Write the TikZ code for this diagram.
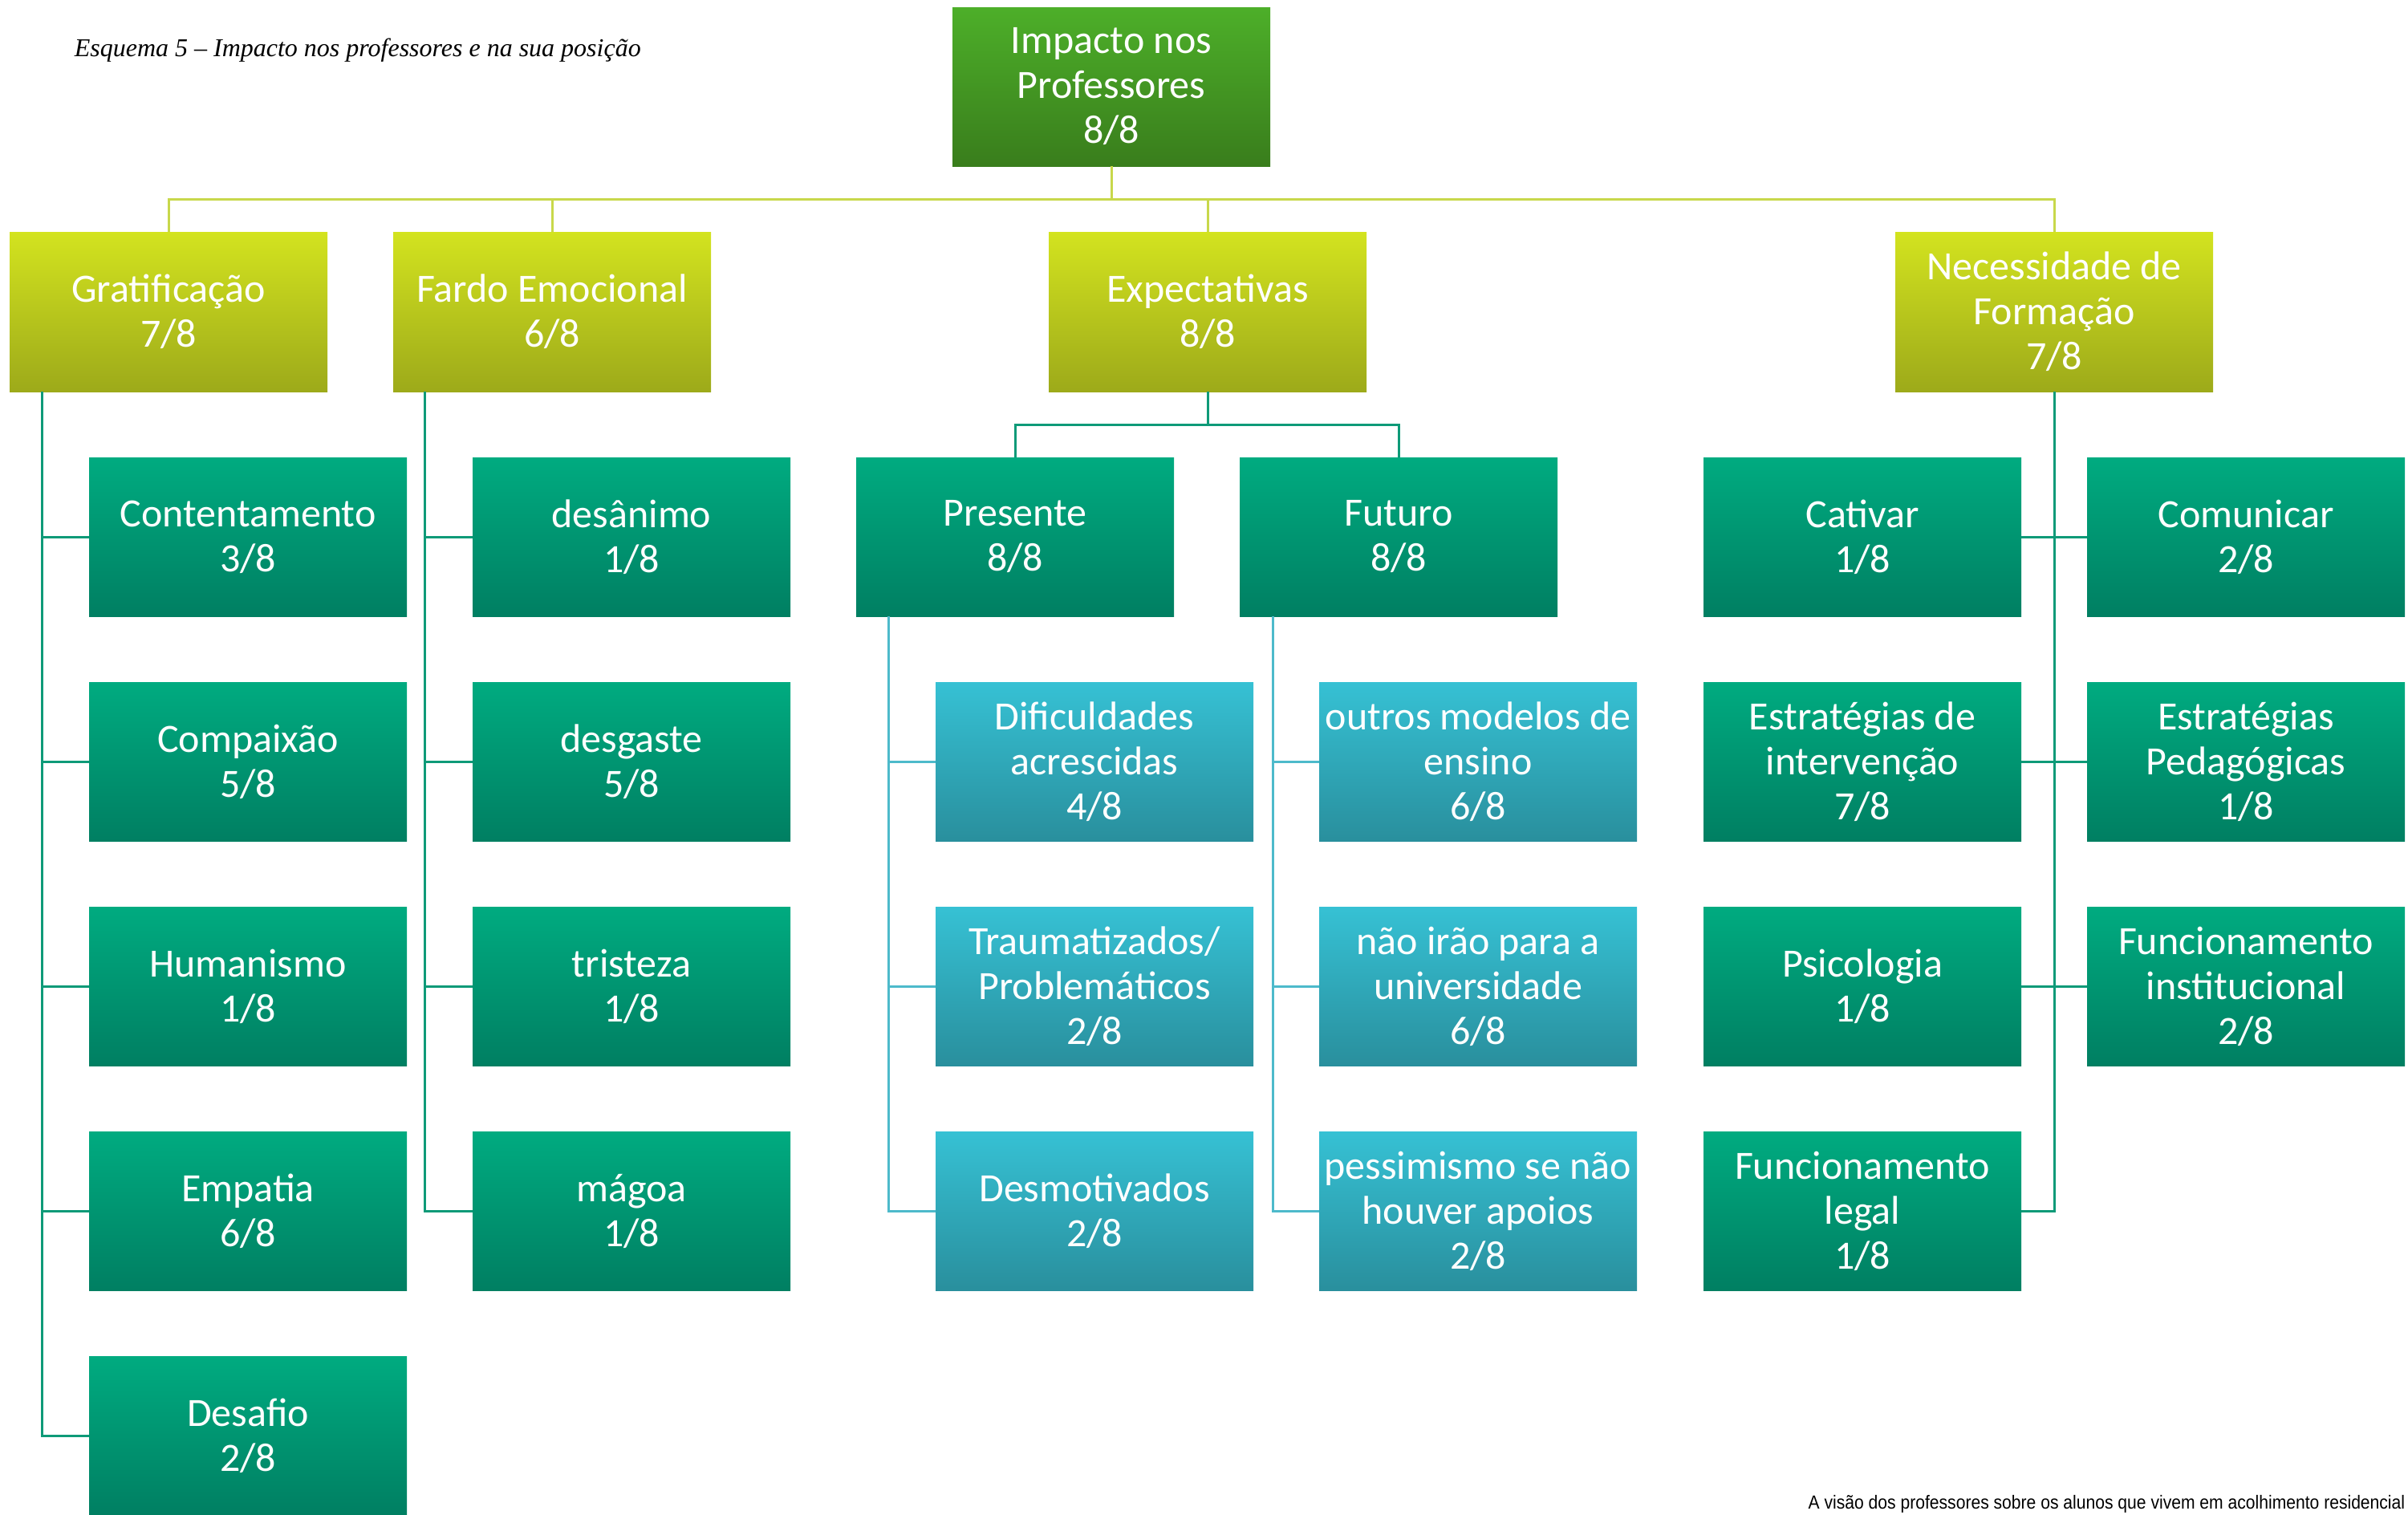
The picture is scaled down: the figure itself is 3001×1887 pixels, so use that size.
\documentclass[tikz,border=0pt]{standalone}
\usepackage{fontspec}
\setmainfont{Carlito}
\newfontfamily\titlefont{Liberation Serif}
\newfontfamily\footfont{Liberation Sans}

\definecolor{rootTop}{HTML}{4DAF29}
\definecolor{rootBot}{HTML}{397D1C}
\definecolor{limeTop}{HTML}{D3E31F}
\definecolor{limeBot}{HTML}{9DAA1A}
\definecolor{tealTop}{HTML}{00AB80}
\definecolor{tealBot}{HTML}{007F62}
\definecolor{blueTop}{HTML}{36C1D4}
\definecolor{blueBot}{HTML}{298F9D}
\definecolor{limeLine}{HTML}{C8D84B}
\definecolor{tealLine}{HTML}{0E9A78}
\definecolor{blueLine}{HTML}{4DBACB}

\tikzset{
  box/.style={rectangle, anchor=north west, minimum width=99pt, minimum height=49.5pt,
    inner sep=0pt, outer sep=0pt, align=center, text=white,
    font=\fontsize{12.5}{14}\selectfont},
  rootbox/.style={box, top color=rootTop, bottom color=rootBot},
  catbox/.style={box, top color=limeTop, bottom color=limeBot},
  tealbox/.style={box, top color=tealTop, bottom color=tealBot},
  bluebox/.style={box, top color=blueTop, bottom color=blueBot},
  limeline/.style={draw=limeLine, line width=0.75pt},
  tealline/.style={draw=tealLine, line width=0.75pt},
  blueline/.style={draw=blueLine, line width=0.75pt},
}

\begin{document}
\begin{tikzpicture}[x=0.25pt, y=-0.25pt]
\useasboundingbox (0,0) rectangle (3001,1887);

% caption and source line
\node[anchor=base west, inner sep=0pt, font=\titlefont\itshape\fontsize{8}{9}\selectfont]
  (title) at (92,70) {Esquema 5 – Impacto nos professores e na sua posição};
\node[anchor=base east, inner sep=0pt, font=\footfont\fontsize{5.9}{7}\selectfont]
  (source) at (2998,1880) {\scalebox{0.894}[1]{A visão dos professores sobre os alunos que vivem em acolhimento residencial}};

% root
\node[rootbox] (root) at (1187,9) {Impacto nos\\Professores\\8/8};

% categories
\node[catbox, minimum height=49.75pt] (grat) at (12,289) {Gratificação\\7/8};
\node[catbox, minimum height=49.75pt] (fardo) at (490,289) {Fardo Emocional\\6/8};
\node[catbox, minimum height=49.75pt] (exp) at (1307,289) {Expectativas\\8/8};
\node[catbox, minimum height=49.75pt] (nec) at (2362,289) {Necessidade de\\Formação\\7/8};

% Gratificação
\node[tealbox] (g1) at (111,570) {Contentamento\\3/8};
\node[tealbox] (g2) at (111,850) {Compaixão\\5/8};
\node[tealbox] (g3) at (111,1130) {Humanismo\\1/8};
\node[tealbox] (g4) at (111,1410) {Empatia\\6/8};
\node[tealbox] (g5) at (111,1690) {Desafio\\2/8};

% Fardo Emocional
\node[tealbox] (f1) at (589,570) {desânimo\\1/8};
\node[tealbox] (f2) at (589,850) {desgaste\\5/8};
\node[tealbox] (f3) at (589,1130) {tristeza\\1/8};
\node[tealbox] (f4) at (589,1410) {mágoa\\1/8};

% Expectativas
\node[tealbox] (pres) at (1067,570) {Presente\\8/8};
\node[tealbox] (fut) at (1545,570) {Futuro\\8/8};
\node[bluebox] (p1) at (1166,850) {Dificuldades\\acrescidas\\4/8};
\node[bluebox] (p2) at (1166,1130) {Traumatizados/\\Problemáticos\\2/8};
\node[bluebox] (p3) at (1166,1410) {Desmotivados\\2/8};
\node[bluebox] (u1) at (1644,850) {outros modelos de\\ensino\\6/8};
\node[bluebox] (u2) at (1644,1130) {não irão para a\\universidade\\6/8};
\node[bluebox] (u3) at (1644,1410) {pessimismo se não\\houver apoios\\2/8};

% Necessidade de Formação
\node[tealbox] (n1) at (2123,570) {Cativar\\1/8};
\node[tealbox] (n2) at (2601,570) {Comunicar\\2/8};
\node[tealbox] (n3) at (2123,850) {Estratégias de\\intervenção\\7/8};
\node[tealbox] (n4) at (2601,850) {Estratégias\\Pedagógicas\\1/8};
\node[tealbox] (n5) at (2123,1130) {Psicologia\\1/8};
\node[tealbox] (n6) at (2601,1130) {Funcionamento\\institucional\\2/8};
\node[tealbox] (n7) at (2123,1410) {Funcionamento\\legal\\1/8};

% root to categories
\draw[limeline] (root.south) -- ++(0,41) coordinate (bus);
\draw[limeline] (bus) -| (grat.north);
\draw[limeline] (bus) -| (fardo.north);
\draw[limeline] (bus) -| (exp.north);
\draw[limeline] (bus) -| (nec.north);

% Gratificação branch
\foreach \c in {g1,g2,g3,g4,g5}
  \draw[tealline] ([xshift=10pt]grat.south west) |- (\c.west);

% Fardo Emocional branch
\foreach \c in {f1,f2,f3,f4}
  \draw[tealline] ([xshift=9.75pt]fardo.south west) |- (\c.west);

% Expectativas branch
\draw[tealline] (exp.south) -- ++(0,41) coordinate (ebus);
\draw[tealline] (ebus) -| (pres.north);
\draw[tealline] (ebus) -| (fut.north);
\foreach \c in {p1,p2,p3}
  \draw[blueline] ([xshift=10pt]pres.south west) |- (\c.west);
\foreach \c in {u1,u2,u3}
  \draw[blueline] ([xshift=10.25pt]fut.south west) |- (\c.west);

% Necessidade de Formação branch
\draw[tealline] (nec.south) -- (nec.south |- n7.east) -- (n7.east);
\draw[tealline] (n1.east) -- (n2.west);
\draw[tealline] (n3.east) -- (n4.west);
\draw[tealline] (n5.east) -- (n6.west);
\end{tikzpicture}
\end{document}
